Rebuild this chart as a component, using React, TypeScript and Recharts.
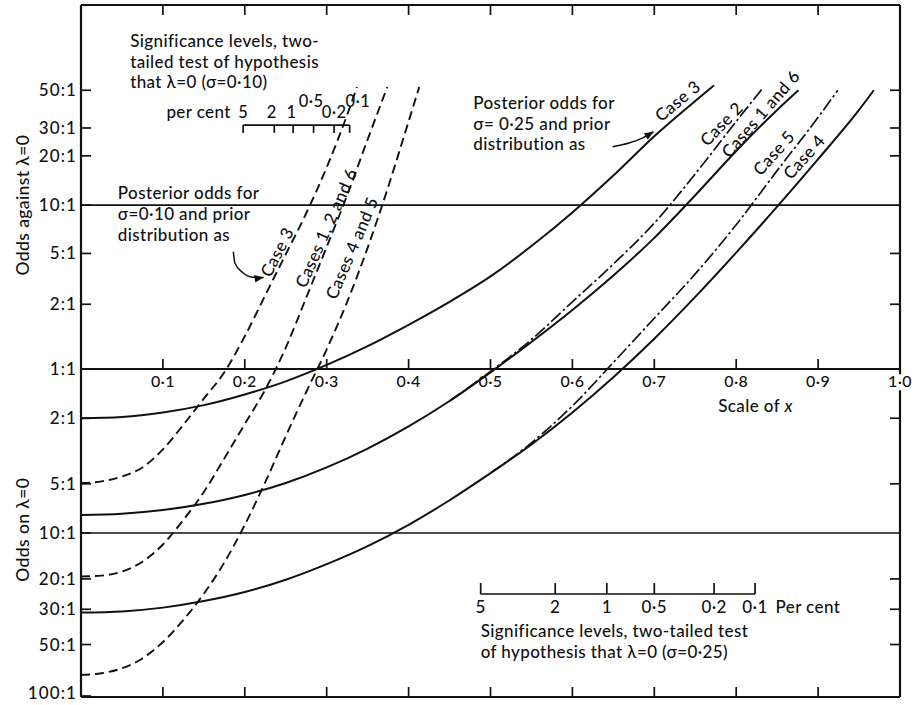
import { ComposedChart, Line, XAxis, YAxis, ReferenceLine, ReferenceDot } from "recharts"

const INK = "#111"
const FONT = "Lato, 'Open Sans', sans-serif"
const TRACK = 0.4

// y values are positions on the odds scale in log10 units (0 = 1:1, +1 = 10:1 against, -2 = 100:1 on)

// sigma = 0.25 (solid / dash-dot)
const S_C3_X = [0, 0.05, 0.1, 0.15, 0.2, 0.25, 0.3, 0.35, 0.4, 0.45, 0.5, 0.55, 0.6, 0.65, 0.7, 0.75, 0.773]
const S_C3_Y = [-0.3, -0.292, -0.265, -0.22, -0.155, -0.075, 0.025, 0.14, 0.27, 0.41, 0.565, 0.75, 0.955, 1.18, 1.42, 1.635, 1.73]

const S_C16_X = [0, 0.05, 0.1, 0.15, 0.2, 0.25, 0.3, 0.35, 0.4, 0.45, 0.5, 0.55, 0.6, 0.65, 0.7, 0.75, 0.8, 0.85, 0.876]
const S_C16_Y = [-0.89, -0.882, -0.86, -0.822, -0.768, -0.695, -0.6, -0.485, -0.35, -0.195, -0.02, 0.165, 0.36, 0.57, 0.8, 1.06, 1.33, 1.58, 1.7]

const S_C2_X = [0.45, 0.5, 0.55, 0.6, 0.65, 0.7, 0.75, 0.8, 0.832]
const S_C2_Y = [-0.195, -0.015, 0.18, 0.41, 0.64, 0.89, 1.19, 1.51, 1.71]

const S_C4_X = [0, 0.05, 0.1, 0.15, 0.2, 0.25, 0.3, 0.35, 0.4, 0.45, 0.5, 0.55, 0.6, 0.65, 0.7, 0.75, 0.8, 0.85, 0.9, 0.95, 0.968]
const S_C4_Y = [-1.485, -1.478, -1.455, -1.415, -1.36, -1.285, -1.19, -1.08, -0.95, -0.8, -0.635, -0.46, -0.265, -0.05, 0.185, 0.44, 0.71, 0.99, 1.28, 1.58, 1.7]

const S_C5_X = [0.5, 0.55, 0.6, 0.65, 0.7, 0.75, 0.8, 0.85, 0.9, 0.924]
const S_C5_Y = [-0.635, -0.45, -0.225, 0.04, 0.31, 0.58, 0.88, 1.21, 1.535, 1.7]

// sigma = 0.10 (dashed)
const D_C3_X = [0, 0.025, 0.05, 0.075, 0.1, 0.125, 0.15, 0.175, 0.2, 0.225, 0.25, 0.275, 0.3, 0.325, 0.337]
const D_C3_Y = [-0.695, -0.685, -0.655, -0.6, -0.49, -0.34, -0.18, -0.02, 0.2, 0.45, 0.7, 0.95, 1.23, 1.55, 1.72]

const D_C126_X = [0, 0.025, 0.05, 0.075, 0.1, 0.125, 0.15, 0.175, 0.2, 0.225, 0.25, 0.275, 0.3, 0.325, 0.35, 0.374]
const D_C126_Y = [-1.265, -1.26, -1.235, -1.175, -1.07, -0.92, -0.75, -0.545, -0.335, -0.125, 0.13, 0.435, 0.745, 1.06, 1.4, 1.72]

const D_C45_X = [0, 0.025, 0.05, 0.075, 0.1, 0.125, 0.15, 0.175, 0.2, 0.225, 0.25, 0.275, 0.3, 0.325, 0.35, 0.375, 0.4, 0.413]
const D_C45_Y = [-1.865, -1.855, -1.825, -1.765, -1.665, -1.53, -1.37, -1.18, -0.95, -0.69, -0.41, -0.14, 0.12, 0.41, 0.74, 1.11, 1.51, 1.72]

// axes
const X_TICKS = [0.1, 0.2, 0.3, 0.4, 0.5, 0.6, 0.7, 0.8, 0.9]
const X_LABELS = ["0·1", "0·2", "0·3", "0·4", "0·5", "0·6", "0·7", "0·8", "0·9", "1·0"]
const X_LABEL_AT = [0.1, 0.2, 0.3, 0.4, 0.5, 0.6, 0.7, 0.8, 0.9, 1.0]

const Y_TICKS = [1.7, 1.6, 1.47, 1.3, 1.0, 0.705, 0.395, 0, -0.3, -0.7, -1.0, -1.28, -1.465, -1.585, -1.68, -2.0]
const Y_LABELS = ["50:1", "40:1", "30:1", "20:1", "10:1", "5:1", "2:1", "1:1", "2:1", "5:1", "10:1", "20:1", "30:1", "40:1", "50:1", "100:1"]
const Y_TICKS_RIGHT = [1.7, 1.6, 1.47, 1.3, 0.705, 0.395, -0.3, -0.7, -1.28, -1.465, -1.585, -1.68]

// significance level scales
const SIG10_X = [0.198, 0.236, 0.259, 0.284, 0.309, 0.328]
const SIG10_LABELS = ["5", "2", "1", "0·5", "0·2", "0·1"]
const SIG10_LABEL_X = [0.198, 0.233, 0.257, 0.281, 0.309, 0.338]
const SIG10_LABEL_Y = [1.53, 1.53, 1.53, 1.6, 1.53, 1.6]
const SIG25_X = [0.488, 0.579, 0.642, 0.7, 0.773, 0.823]
const SIG25_LABELS = ["5", "2", "1", "0·5", "0·2", "0·1"]

// annotation arrows
const ARROW_L_X = [0.186, 0.188, 0.197, 0.21, 0.223]
const ARROW_L_Y = [0.715, 0.645, 0.59, 0.56, 0.558]
const ARROW_R_X = [0.649, 0.669, 0.686, 0.699]
const ARROW_R_Y = [1.355, 1.378, 1.41, 1.447]

const zip = (xs: number[], ys: number[]) => xs.map((x, i) => ({ x, y: ys[i] }))

type Note = {
  x: number
  y: number
  lines: string[]
  angle?: number
  anchor?: "start" | "middle" | "end"
  size?: number
  lead?: number
  mid?: boolean
}

const NOTES: Note[] = [
  { x: 0.06, y: 1.963, lines: ["Significance levels, two-", "tailed test of hypothesis", "that  λ=0 (σ=0·10)"], lead: 20.5 },
  { x: 0.183, y: 1.53, lines: ["per cent"], anchor: "end" },
  { x: 0.045, y: 1.037, lines: ["Posterior odds for", "σ=0·10 and prior", "distribution as"], lead: 21 },
  { x: 0.479, y: 1.585, lines: ["Posterior odds for", "σ= 0·25 and prior", "distribution as"], lead: 20.5 },
  { x: 0.488, y: -1.634, lines: ["Significance levels, two-tailed test", "of hypothesis that λ=0 (σ=0·25)"], lead: 21 },
  { x: 0.848, y: -1.488, lines: ["Per cent"] },
  { x: -0.064, y: 1.0, lines: ["Odds against λ=0"], angle: -90, anchor: "middle", size: 17.5 },
  { x: -0.064, y: -0.98, lines: ["Odds on λ=0"], angle: -90, anchor: "middle", size: 17.5 },
  { x: 0.2396, y: 0.713, lines: ["Case 3"], angle: -63, anchor: "middle", mid: true },
  { x: 0.2995, y: 0.86, lines: ["Cases 1, 2 and 6"], angle: -66, anchor: "middle", mid: true },
  { x: 0.331, y: 0.738, lines: ["Cases 4 and 5"], angle: -67, anchor: "middle", mid: true },
  { x: 0.7286, y: 1.634, lines: ["Case 3"], angle: -40, anchor: "middle", mid: true },
  { x: 0.782, y: 1.494, lines: ["Case 2"], angle: -46, anchor: "middle", mid: true },
  { x: 0.83, y: 1.555, lines: ["Cases 1 and 6"], angle: -49, anchor: "middle", mid: true },
  { x: 0.846, y: 1.317, lines: ["Case 5"], angle: -48, anchor: "middle", mid: true },
  { x: 0.883, y: 1.293, lines: ["Case 4"], angle: -48, anchor: "middle", mid: true },
]

function NoteText(props: any) {
  const { cx, cy, note } = props
  const n: Note = note
  const size = n.size ?? 17
  const lead = n.lead ?? 20.5
  const y0 = n.mid ? cy + size * 0.35 : cy
  return (
    <text
      x={cx}
      y={y0}
      transform={n.angle ? `rotate(${n.angle} ${cx} ${cy})` : undefined}
      textAnchor={n.anchor ?? "start"}
      fontSize={size}
      fontWeight={500}
      letterSpacing={TRACK}
      fontFamily={FONT}
      fill={INK}
    >
      {n.lines.map((l, i) => (
        <tspan key={i} x={cx} dy={i === 0 ? 0 : lead}>
          {l}
        </tspan>
      ))}
    </text>
  )
}

function PlainText(props: any) {
  const { cx, cy, text, anchor, size, knock } = props
  const fs = size ?? 16
  return (
    <g>
      {knock && <rect x={cx - 12} y={cy - fs * 0.8} width={24} height={fs} fill="#fff" />}
      <text
        x={cx}
        y={cy}
        textAnchor={anchor ?? "middle"}
        fontSize={fs}
        fontWeight={500}
        letterSpacing={TRACK}
        fontFamily={FONT}
        fill={INK}
      >
        {text}
      </text>
    </g>
  )
}

function ScaleOfX(props: any) {
  const { cx, cy } = props
  return (
    <text x={cx} y={cy} fontSize={17} fontWeight={500} letterSpacing={TRACK} fontFamily={FONT} fill={INK}>
      Scale of <tspan fontStyle="italic">x</tspan>
    </text>
  )
}

function MidTick(props: any) {
  const { cx, cy } = props
  return <line x1={cx} x2={cx} y1={cy} y2={cy - 10} stroke={INK} strokeWidth={1.7} />
}

function LeftTick(props: any) {
  const { x, y, payload } = props
  const i = Y_TICKS.indexOf(payload.value)
  const bottom = i === Y_TICKS.length - 1
  return (
    <g>
      <line x1={x} x2={x + 10} y1={y} y2={y} stroke={INK} strokeWidth={1.7} />
      <text
        x={x - 4}
        y={y + (bottom ? 2.5 : 6)}
        textAnchor="end"
        fontSize={17}
        fontWeight={500}
        letterSpacing={1.1}
        fontFamily={FONT}
        fill={INK}
      >
        {Y_LABELS[i]}
      </text>
    </g>
  )
}

function RightTick(props: any) {
  const { x, y } = props
  return <line x1={x} x2={x - 10} y1={y} y2={y} stroke={INK} strokeWidth={1.7} />
}

function TopTick(props: any) {
  const { x, y } = props
  return <line x1={x} x2={x} y1={y} y2={y + 10} stroke={INK} strokeWidth={1.7} />
}

function BottomTick(props: any) {
  const { x, y } = props
  return <line x1={x} x2={x} y1={y} y2={y - 10} stroke={INK} strokeWidth={1.7} />
}

function arrowHead(angle: number, last: number) {
  return (p: any) => {
    if (p.index !== last) return <g key={p.index} />
    return (
      <polygon
        key={p.index}
        points="0,0 -9,-3.8 -9,3.8"
        transform={`translate(${p.cx},${p.cy}) rotate(${angle})`}
        fill={INK}
      />
    )
  }
}

const AX = { xAxisId: "b", yAxisId: "l" }

export default function App() {
  const solid = { type: "monotone" as const, stroke: INK, strokeWidth: 2, dot: false, activeDot: false, isAnimationActive: false, dataKey: "y", ...AX }
  const dashed = { ...solid, strokeWidth: 1.9, strokeDasharray: "9 5" }
  const dashDot = { ...solid, strokeWidth: 1.7, strokeDasharray: "13 3 2.5 3" }

  return (
    <div style={{ position: "absolute", left: 0, top: 0, width: 915, height: 705, background: "#fff" }}>
      <ComposedChart width={915} height={705} margin={{ top: 0, right: 0, bottom: 0, left: 0 }} style={{ fontFamily: FONT }}>
        <XAxis
          xAxisId="b"
          type="number"
          dataKey="x"
          domain={[0, 1]}
          ticks={X_TICKS}
          orientation="bottom"
          height={8}
          tickSize={0}
          tickMargin={0}
          tickLine={false}
          tick={(p: any) => <BottomTick {...p} />}
          axisLine={{ stroke: INK, strokeWidth: 2.2 }}
          allowDataOverflow
        />
        <XAxis
          xAxisId="t"
          type="number"
          dataKey="x"
          domain={[0, 1]}
          ticks={X_TICKS}
          orientation="top"
          height={5}
          tickSize={0}
          tickMargin={0}
          tickLine={false}
          tick={(p: any) => <TopTick {...p} />}
          axisLine={{ stroke: INK, strokeWidth: 2.2 }}
          allowDataOverflow
        />
        <YAxis
          yAxisId="l"
          type="number"
          domain={[-2, 2.22]}
          ticks={Y_TICKS}
          width={81}
          tickSize={0}
          tickMargin={0}
          tickLine={false}
          tick={(p: any) => <LeftTick {...p} />}
          axisLine={{ stroke: INK, strokeWidth: 2.2 }}
          allowDataOverflow
        />
        <YAxis
          yAxisId="r"
          orientation="right"
          type="number"
          domain={[-2, 2.22]}
          ticks={Y_TICKS_RIGHT}
          width={15}
          tickSize={0}
          tickMargin={0}
          tickLine={false}
          tick={(p: any) => <RightTick {...p} />}
          axisLine={{ stroke: INK, strokeWidth: 2.2 }}
          allowDataOverflow
        />

        <ReferenceLine y={1} {...AX} stroke={INK} strokeWidth={1.7} />
        <ReferenceLine y={0} {...AX} stroke={INK} strokeWidth={1.9} />
        <ReferenceLine y={-1} {...AX} stroke={INK} strokeWidth={1.7} />

        {X_TICKS.map((v) => (
          <ReferenceDot key={"mt" + v} x={v} y={0} {...AX} r={0} ifOverflow="visible" shape={(p: any) => <MidTick {...p} />} />
        ))}
        {X_LABEL_AT.map((v, i) => (
          <ReferenceDot
            key={"ml" + v}
            x={v}
            y={-0.11}
            {...AX}
            r={0}
            ifOverflow="visible"
            shape={(p: any) => <PlainText {...p} text={X_LABELS[i]} size={16} knock={v === 1} />}
          />
        ))}
        <ReferenceDot x={0.778} y={-0.262} {...AX} r={0} ifOverflow="visible" shape={(p: any) => <ScaleOfX {...p} />} />

        {/* significance scale, sigma = 0.10 */}
        <ReferenceLine
          {...AX}
          segment={[{ x: SIG10_X[0], y: 1.488 }, { x: SIG10_X[SIG10_X.length - 1], y: 1.488 }]}
          stroke={INK}
          strokeWidth={1.7}
        />
        {SIG10_X.map((v, i) => (
          <ReferenceLine key={"s10" + i} {...AX} segment={[{ x: v, y: 1.488 }, { x: v, y: 1.44 }]} stroke={INK} strokeWidth={1.7} />
        ))}
        {SIG10_LABEL_X.map((v, i) => (
          <ReferenceDot
            key={"s10l" + i}
            x={v}
            y={SIG10_LABEL_Y[i]}
            {...AX}
            r={0}
            shape={(p: any) => <PlainText {...p} text={SIG10_LABELS[i]} size={16.5} />}
          />
        ))}

        {/* significance scale, sigma = 0.25 */}
        <ReferenceLine
          {...AX}
          segment={[{ x: SIG25_X[0], y: -1.372 }, { x: SIG25_X[SIG25_X.length - 1], y: -1.372 }]}
          stroke={INK}
          strokeWidth={1.7}
        />
        {SIG25_X.map((v, i) => (
          <ReferenceLine key={"s25" + i} {...AX} segment={[{ x: v, y: -1.372 }, { x: v, y: -1.305 }]} stroke={INK} strokeWidth={1.7} />
        ))}
        {SIG25_X.map((v, i) => (
          <ReferenceDot
            key={"s25l" + i}
            x={v}
            y={-1.488}
            {...AX}
            r={0}
            shape={(p: any) => <PlainText {...p} text={SIG25_LABELS[i]} size={17} />}
          />
        ))}

        {/* curves */}
        <Line {...dashed} data={zip(D_C3_X, D_C3_Y)} name="σ=0.10 Case 3" />
        <Line {...dashed} data={zip(D_C126_X, D_C126_Y)} name="σ=0.10 Cases 1, 2 and 6" />
        <Line {...dashed} data={zip(D_C45_X, D_C45_Y)} name="σ=0.10 Cases 4 and 5" />
        <Line {...solid} data={zip(S_C3_X, S_C3_Y)} name="σ=0.25 Case 3" />
        <Line {...solid} data={zip(S_C16_X, S_C16_Y)} name="σ=0.25 Cases 1 and 6" />
        <Line {...dashDot} data={zip(S_C2_X, S_C2_Y)} name="σ=0.25 Case 2" />
        <Line {...solid} data={zip(S_C4_X, S_C4_Y)} name="σ=0.25 Case 4" />
        <Line {...dashDot} data={zip(S_C5_X, S_C5_Y)} name="σ=0.25 Case 5" />

        {/* arrows */}
        <Line
          {...solid}
          strokeWidth={1.5}
          data={zip(ARROW_L_X, ARROW_L_Y)}
          dot={arrowHead(-8, ARROW_L_X.length - 1)}
        />
        <Line
          {...solid}
          strokeWidth={1.5}
          data={zip(ARROW_R_X, ARROW_R_Y)}
          dot={arrowHead(-32, ARROW_R_X.length - 1)}
        />

        {NOTES.map((n, i) => (
          <ReferenceDot key={"n" + i} x={n.x} y={n.y} {...AX} r={0} ifOverflow="visible" shape={(p: any) => <NoteText {...p} note={n} />} />
        ))}
      </ComposedChart>
    </div>
  )
}
